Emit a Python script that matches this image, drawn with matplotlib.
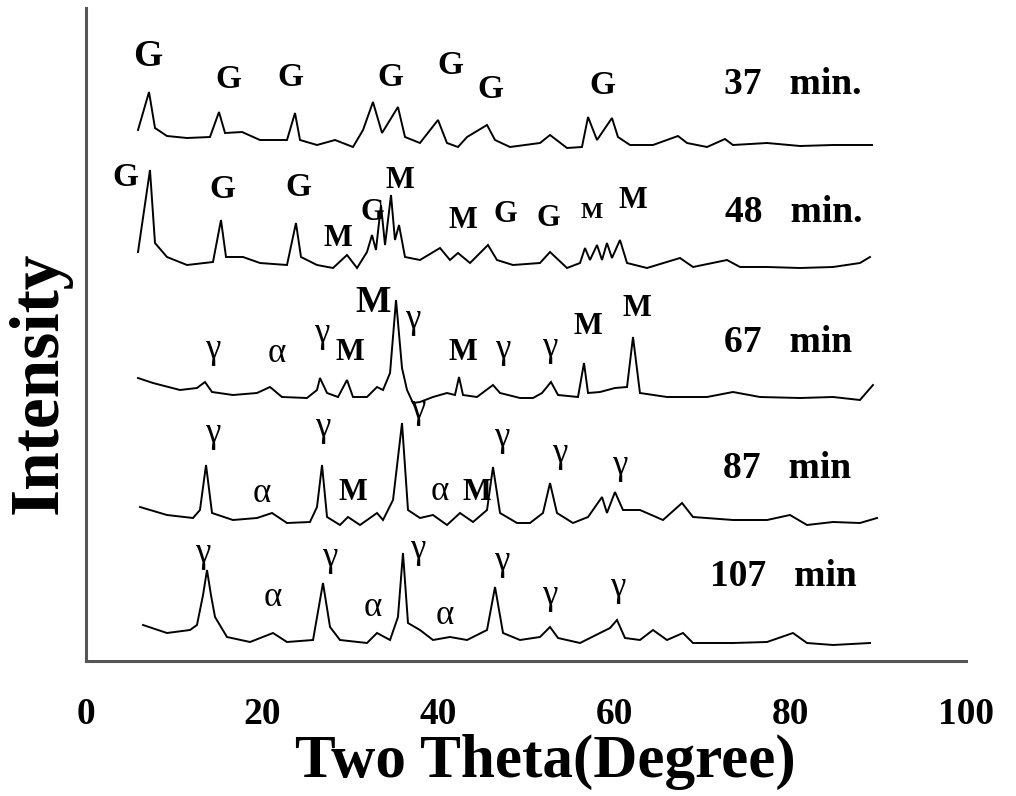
import matplotlib
matplotlib.use("Agg")
import matplotlib.pyplot as plt

plt.rcParams['font.family'] = ['Liberation Serif', 'DejaVu Serif']

# ---------------- data (2-theta in degrees, relative intensity) ----------------
tt_37 = [5.91, 7.16, 7.84, 9.20, 11.48, 14.09, 15.11, 15.80, 17.73, 19.77, 22.84, 23.75,
         24.32, 26.25, 28.30, 30.34, 31.48, 32.61, 33.64, 35.45, 36.25, 37.95, 40.00,
         41.02, 42.27, 43.30, 45.57, 46.48, 48.18, 51.59, 52.73, 54.66, 56.36, 57.05,
         58.07, 59.77, 60.45, 61.82, 64.43, 67.27, 68.30, 70.57, 72.61, 73.52, 77.39,
         81.14, 84.89, 89.32]
int_37 = [17, 55, 19, 11, 9, 10, 35, 14, 15, 7, 7, 34,
          7, 2, 7, 0, 17, 45, 14, 40, 10, 4, 27,
          4, 0, 10, 22, 7, 0, 4, 12, -1, 0, 30,
          7, 29, 10, 2, 2, 11, 4, 0, 8, 2, 4,
          1, 2, 2]

tt_48 = [5.91, 7.27, 7.84, 9.20, 11.48, 14.43, 15.34, 15.91, 17.84, 19.77, 22.84, 23.86,
         24.43, 26.25, 28.07, 29.66, 30.80, 31.93, 32.50, 32.95, 33.52, 33.98, 34.66,
         35.11, 35.57, 36.25, 37.95, 40.23, 41.36, 42.27, 43.64, 45.68, 46.70, 48.52,
         51.59, 52.73, 54.66, 56.14, 56.70, 57.27, 58.07, 58.64, 59.20, 59.77, 60.68,
         61.48, 63.75, 67.50, 68.98, 72.84, 74.32, 77.39, 81.14, 84.89, 87.95, 89.09]
int_48 = [16, 98, 25, 11, 3, 6, 48, 11, 11, 5, 3, 45,
          11, 3, 0, 13, 0, 16, 33, 18, 63, 23, 73,
          28, 43, 11, 8, 20, 8, 15, 5, 23, 8, 3,
          5, 16, 0, 5, 20, 8, 23, 8, 25, 10, 28,
          5, 0, 10, 1, 8, 1, 1, 0, 1, 5, 11]

tt_67 = [5.91, 7.61, 10.68, 12.61, 13.52, 14.32, 16.70, 19.43, 20.91, 22.27, 25.11, 26.25,
         26.59, 27.39, 28.64, 29.66, 30.34, 31.93, 33.07, 33.75, 34.55, 35.23, 35.91,
         36.48, 37.16, 37.95, 39.43, 41.02, 41.93, 42.39, 42.84, 44.43, 46.25, 47.05,
         49.32, 50.80, 51.82, 52.84, 53.64, 55.91, 56.59, 57.05, 58.41, 60.11, 61.48,
         62.16, 62.95, 66.02, 70.57, 73.52, 76.59, 81.14, 84.89, 87.95, 89.43]
int_67 = [20, 15, 8, 10, 16, 6, 3, 5, 11, 1, 0, 8,
          20, 5, 1, 18, 1, 1, 11, 8, 25, 98, 30,
          8, -5, -4, 1, 5, 3, 21, 3, 1, 13, 5,
          0, 0, 5, 16, 3, 1, 35, 5, 6, 10, 11,
          61, 5, 1, 1, 6, 1, 0, 1, -2, 13]

tt_87 = [6.14, 9.20, 12.16, 12.95, 13.64, 14.32, 16.70, 19.43, 21.14, 22.84, 25.45, 26.25,
         26.82, 27.39, 28.86, 29.77, 31.14, 33.07, 33.75, 34.89, 35.91, 36.59, 37.95,
         39.43, 41.02, 42.50, 43.98, 45.57, 46.25, 47.05, 48.98, 50.45, 51.93, 52.73,
         53.52, 55.34, 57.05, 58.64, 59.20, 60.11, 61.02, 62.95, 65.57, 67.73, 68.98,
         73.52, 77.39, 80.00, 81.93, 84.89, 87.95, 89.89]
int_87 = [18, 10, 7, 15, 60, 12, 5, 7, 12, 2, 3, 18,
          60, 8, 0, 8, 0, 12, 5, 25, 102, 15, 7,
          10, 0, 12, 3, 15, 58, 12, 2, 2, 12, 42,
          12, 2, 8, 28, 12, 33, 15, 15, 5, 22, 8,
          5, 5, 10, 0, 3, 2, 7]

tt_107 = [6.48, 9.20, 11.82, 12.61, 13.30, 13.75, 14.20, 14.66, 16.02, 18.64, 21.25, 22.84,
          25.80, 26.93, 27.73, 28.86, 31.93, 33.07, 34.55, 35.45, 36.02, 36.59, 37.95,
          39.43, 41.36, 43.30, 45.57, 46.48, 47.39, 49.32, 51.59, 52.73, 53.64, 56.14,
          58.41, 59.55, 60.34, 61.25, 62.95, 64.43, 66.02, 67.84, 68.98, 73.52, 77.39,
          80.34, 81.93, 84.89, 89.09]
int_107 = [20, 12, 15, 20, 50, 75, 50, 28, 8, 3, 12, 3,
           5, 62, 18, 5, 2, 12, 5, 28, 92, 22, 15,
           5, 8, 5, 15, 58, 12, 5, 8, 18, 7, 2,
           12, 17, 25, 7, 5, 15, 5, 12, 2, 2, 3,
           12, 2, 0, 2]

series_tt = [tt_37, tt_48, tt_67, tt_87, tt_107]
series_int = [int_37, int_48, int_67, int_87, int_107]
series_names = ['37   min.', '48   min.', '67   min', '87   min', '107   min']
x_ticks = [0, 20, 40, 60, 80, 100]
x_tick_labels = ['0', '20', '40', '60', '80', '100']

# ---------------- layout ----------------
offsets = [514, 393, 263, 136, 16]
name_pos = [(80.3, 576), (80.4, 449), (79.8, 319), (79.7, 193), (79.2, 84)]

# (text, x, y, fontsize, weight)
peak_labels = [
    ('G', 7.05, 604, 27, 'bold'), ('G', 16.14, 581, 24, 'bold'), ('G', 23.18, 584, 24, 'bold'),
    ('G', 34.55, 584, 24, 'bold'), ('G', 41.36, 596, 24, 'bold'), ('G', 45.91, 571, 24, 'bold'),
    ('G', 58.64, 576, 24, 'bold'),
    ('G', 4.43, 483, 24, 'bold'), ('G', 15.45, 471, 24, 'bold'), ('G', 24.09, 474, 24, 'bold'),
    ('M', 28.64, 423, 22, 'bold'), ('G', 32.5, 449, 22, 'bold'), ('M', 35.68, 481, 22, 'bold'),
    ('M', 42.84, 441, 22, 'bold'), ('G', 47.61, 446, 22, 'bold'), ('G', 52.5, 443, 22, 'bold'),
    ('M', 57.5, 449, 17, 'bold'), ('M', 62.16, 461, 22, 'bold'),
    ('γ', 14.43, 311, 25, 'normal'), ('α', 21.7, 308, 25, 'normal'), ('γ', 26.82, 328, 25, 'normal'),
    ('M', 30.0, 309, 22, 'bold'), ('M', 32.6, 359, 27, 'heavy'), ('γ', 37.16, 341, 25, 'normal'),
    ('M', 42.84, 309, 22, 'bold'), ('γ', 47.39, 311, 25, 'normal'), ('γ', 52.73, 313, 25, 'normal'),
    ('M', 57.05, 334, 22, 'bold'), ('M', 62.6, 353, 22, 'bold'),
    ('γ', 14.43, 228, 25, 'normal'), ('α', 20.0, 168, 25, 'normal'), ('γ', 26.93, 233, 25, 'normal'),
    ('M', 30.34, 168, 22, 'heavy'), ('γ', 37.73, 251, 25, 'normal'), ('α', 40.23, 169, 25, 'normal'),
    ('M', 44.43, 168, 22, 'heavy'), ('γ', 47.27, 224, 25, 'normal'), ('γ', 53.86, 208, 25, 'normal'),
    ('γ', 60.68, 196, 25, 'normal'),
    ('γ', 13.3, 108, 25, 'normal'), ('α', 21.25, 63, 25, 'normal'), ('γ', 27.73, 104, 25, 'normal'),
    ('α', 32.61, 53, 25, 'normal'), ('γ', 37.73, 111, 25, 'normal'), ('α', 40.8, 46, 25, 'normal'),
    ('γ', 47.27, 99, 25, 'normal'), ('γ', 52.73, 66, 25, 'normal'), ('γ', 60.45, 73, 25, 'normal'),
]

W, H = 1016, 796
fig = plt.figure(figsize=(W / 100, H / 100), dpi=100)
ax = fig.add_axes([86 / W, (H - 661) / H, (966 - 86) / W, (661 - 8) / H])
ax.set_xlim(0, 100)
ax.set_ylim(0, 653)

for tt, inten, off in zip(series_tt, series_int, offsets):
    ax.plot(tt, [v + off for v in inten], color='black', lw=1.4, solid_joinstyle='miter')

for txt, x, y, fs, wt in peak_labels:
    ax.text(x, y, txt, fontsize=fs, fontweight=wt, ha='center', va='center', color='black')

for name, (x, y) in zip(series_names, name_pos):
    ax.text(x, y, name, fontsize=27, fontweight='bold', ha='center', va='center', color='black')

for s in ['top', 'right']:
    ax.spines[s].set_visible(False)
for s in ['left', 'bottom']:
    ax.spines[s].set_color('#555555')
    ax.spines[s].set_linewidth(2.2)

ax.set_xticks(x_ticks)
ax.set_xticklabels(x_tick_labels, fontsize=27, fontweight='bold')
ax.set_yticks([])
ax.tick_params(axis='x', length=0, pad=26)

fig.text(545 / W, 1 - 762 / H, 'Two Theta(Degree)', fontsize=44, fontweight='bold',
         ha='center', va='center')
fig.text(40 / W, 1 - 383 / H, 'Intensity', fontsize=50, fontweight='bold',
         ha='center', va='center', rotation=90)

fig.savefig('out.png', dpi=100, facecolor='white')
